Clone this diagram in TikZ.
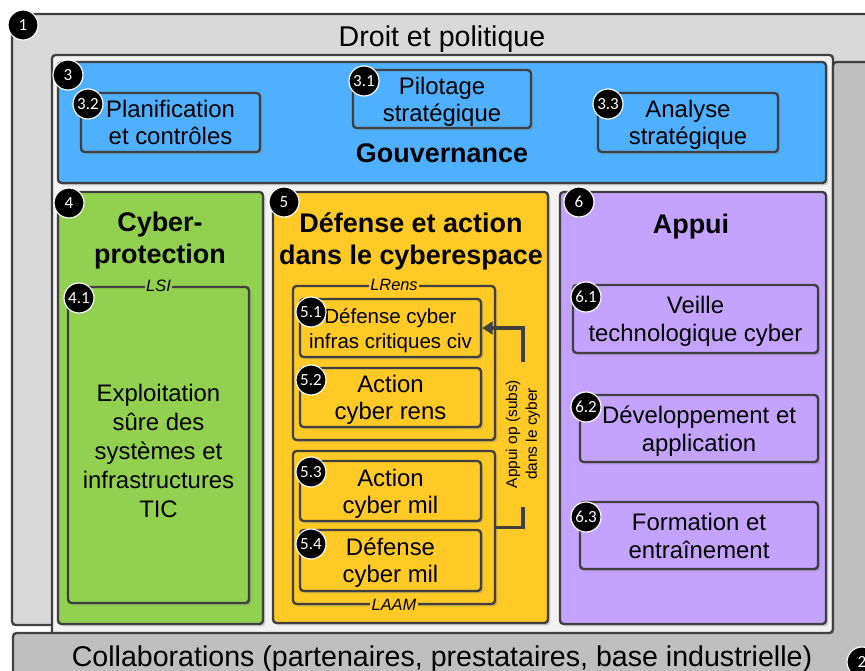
\documentclass[tikz,border=0pt]{standalone}
\usepackage{fontspec}
\setmainfont{Liberation Sans}
\newfontfamily\badgefont{Carlito}
\usetikzlibrary{positioning,fit,shadows,arrows.meta,calc}
\definecolor{droitgray}{RGB}{217,217,217}
\definecolor{collabgray}{RGB}{191,191,191}
\definecolor{coeurgray}{RGB}{242,242,242}
\definecolor{edgegray}{RGB}{64,64,64}
\definecolor{gouvblue}{RGB}{79,176,255}
\definecolor{protgreen}{RGB}{146,208,80}
\definecolor{lutteyellow}{RGB}{255,201,38}
\definecolor{appuipurple}{RGB}{196,163,255}
\newcommand\bigtxt{\fontsize{24.4}{29}\selectfont}
\newcommand\domtitle{\bfseries\fontsize{23}{27.3}\selectfont}
\newcommand\boxtxt{\fontsize{20.4}{23}\selectfont}
\tikzstyle{panel} = [draw=edgegray, line width=2pt, rounded corners=3pt, inner sep=0pt]
\tikzstyle{box} = [panel, align=center, text depth=0pt, drop shadow={shadow xshift=2pt, shadow yshift=-2pt, opacity=0.35}]
\tikzstyle{badge} = [circle, fill=black, draw=white, line width=1pt, minimum size=0.9cm, inner sep=0pt, text=white, font=\badgefont\fontsize{14.5}{14.5}\selectfont]
\tikzstyle{tag} = [inner sep=1pt, font=\itshape\fontsize{14}{14}\selectfont]
\tikzstyle{line} = [draw=edgegray, line width=3pt]
\begin{document}
\begin{tikzpicture}[x=0.03cm, y=-0.03cm]
\useasboundingbox (0,0) rectangle (865,671);
\clip (0,0) rectangle (865,671);
\node[panel, fill=droitgray, fit={(12,14) (885,625)}] (droit) {};
\node[font=\bigtxt] (droitlbl) at (442,39) {Droit et politique};
\node[panel, fill=coeurgray, fit={(52,55) (833,640)}] (coeur) {};
\draw[panel, fill=collabgray] (13,633) -- (833,633) -- (833,62) -- (885,62) -- (885,690) -- (13,690) -- cycle;
\node[font=\bigtxt] (collablbl) at (442,659) {Collaborations (partenaires, prestataires, base industrielle)};

\node[box, fill=gouvblue, fit={(58,62) (826,183)}] (gouv) {};
\node[font=\domtitle] (gouvlbl) at (442,153) {Gouvernance};
\node[box, fill=gouvblue, font=\boxtxt, minimum width=5.34cm, minimum height=1.74cm] (pilot) at (442,99) {Pilotage\\strat\'egique};
\node[box, fill=gouvblue, font=\boxtxt, minimum width=5.37cm, minimum height=1.77cm] (planif) at (170.5,122.5) {Planification\\et contr\^oles};
\node[box, fill=gouvblue, font=\boxtxt, minimum width=5.4cm, minimum height=1.77cm] (analyse) at (688,122.5) {Analyse\\strat\'egique};

\node[box, fill=protgreen, fit={(58,192) (263,624)}] (protect) {};
\node[font=\domtitle, align=center] (protectlbl) at (160,241) {Cyber-\\protection};
\node[box, fill=protgreen, minimum width=5.43cm, minimum height=9.48cm] (exploit) at (158.5,445) {};
\node[align=center, font=\fontsize{20.4}{24.7}\selectfont] (exploitlbl) at (158.5,451) {Exploitation\\s\^ure des\\syst\`emes et\\infrastructures\\TIC};
\node[tag, fill=protgreen] (lsi) at (exploit.north) {LSI};

\node[box, fill=lutteyellow, fit={(273,192) (548,623)}] (lutte) {};
\node[font=\domtitle, align=center] (luttelbl) at (411,241) {D\'efense et action\\dans le cyberespace};
\node[box, fill=lutteyellow, fit={(293,286) (495,440)}] (lrens) {};
\node[box, fill=lutteyellow, fit={(293,451) (495,604)}] (laam) {};
\node[tag, fill=lutteyellow] (lrenslbl) at (lrens.north) {LRens};
\node[tag, fill=lutteyellow] (laamlbl) at (laam.south) {LAAM};
\node[box, fill=lutteyellow, font=\fontsize{17.5}{21.3}\selectfont, minimum width=5.43cm, minimum height=1.74cm] (b51) at (390.5,328) {D\'efense cyber\\infras critiques civ};
\node[box, fill=lutteyellow, font=\boxtxt, text depth=-3pt, minimum width=5.43cm, minimum height=1.77cm] (b52) at (390.5,397.5) {Action\\cyber rens};
\node[box, fill=lutteyellow, font=\boxtxt, text depth=-3pt, minimum width=5.43cm, minimum height=1.8cm] (b53) at (390.5,491) {Action\\cyber mil};
\node[box, fill=lutteyellow, font=\boxtxt, text depth=-3pt, minimum width=5.43cm, minimum height=1.83cm] (b54) at (390.5,560.5) {D\'efense\\cyber mil};
\coordinate (renvoi) at (523,434);
\draw[line, -{Triangle[length=9pt,width=11pt]}] (laam.east) -- (laam.east -| renvoi) -- (b51.east -| renvoi) -- (b51.east);
\node[fill=lutteyellow, rotate=90, align=center, inner sep=2pt, minimum width=4.35cm, font=\fontsize{13.2}{17}\selectfont] (renvoilbl) at (renvoi) {Appui op (subs)\\dans le cyber};

\node[box, fill=appuipurple, fit={(560,192) (826,624)}] (appui) {};
\node[font=\domtitle] (appuilbl) at (691,227) {Appui};
\node[box, fill=appuipurple, font=\fontsize{20.4}{23.9}\selectfont, minimum width=7.35cm, minimum height=2.04cm] (veille) at (695.5,319) {Veille\\technologique cyber};
\node[box, fill=appuipurple, font=\fontsize{20.4}{23.9}\selectfont, minimum width=7.14cm, minimum height=2.01cm] (dev) at (699,428.5) {D\'eveloppement et\\application};
\node[box, fill=appuipurple, font=\fontsize{20.4}{23.9}\selectfont, minimum width=7.14cm, minimum height=2.01cm] (form) at (699,535.5) {Formation et\\entra\^inement};

\node[badge] (n1) at (23,25) {1};
\node[badge] (n2) at (862,662) {2};
\node[badge] (n3) at (68,75) {3};
\node[badge] (n31) at (364,81) {3.1};
\node[badge] (n32) at (88,104) {3.2};
\node[badge] (n33) at (608,104) {3.3};
\node[badge] (n4) at (69,203) {4};
\node[badge] (n41) at (79,298) {4.1};
\node[badge] (n5) at (284,202) {5};
\node[badge] (n51) at (311,312) {5.1};
\node[badge] (n52) at (311,380) {5.2};
\node[badge] (n53) at (311,472) {5.3};
\node[badge] (n54) at (311,544) {5.4};
\node[badge] (n6) at (579,202) {6};
\node[badge] (n61) at (586,297) {6.1};
\node[badge] (n62) at (586,407) {6.2};
\node[badge] (n63) at (586,517) {6.3};
\end{tikzpicture}
\end{document}
